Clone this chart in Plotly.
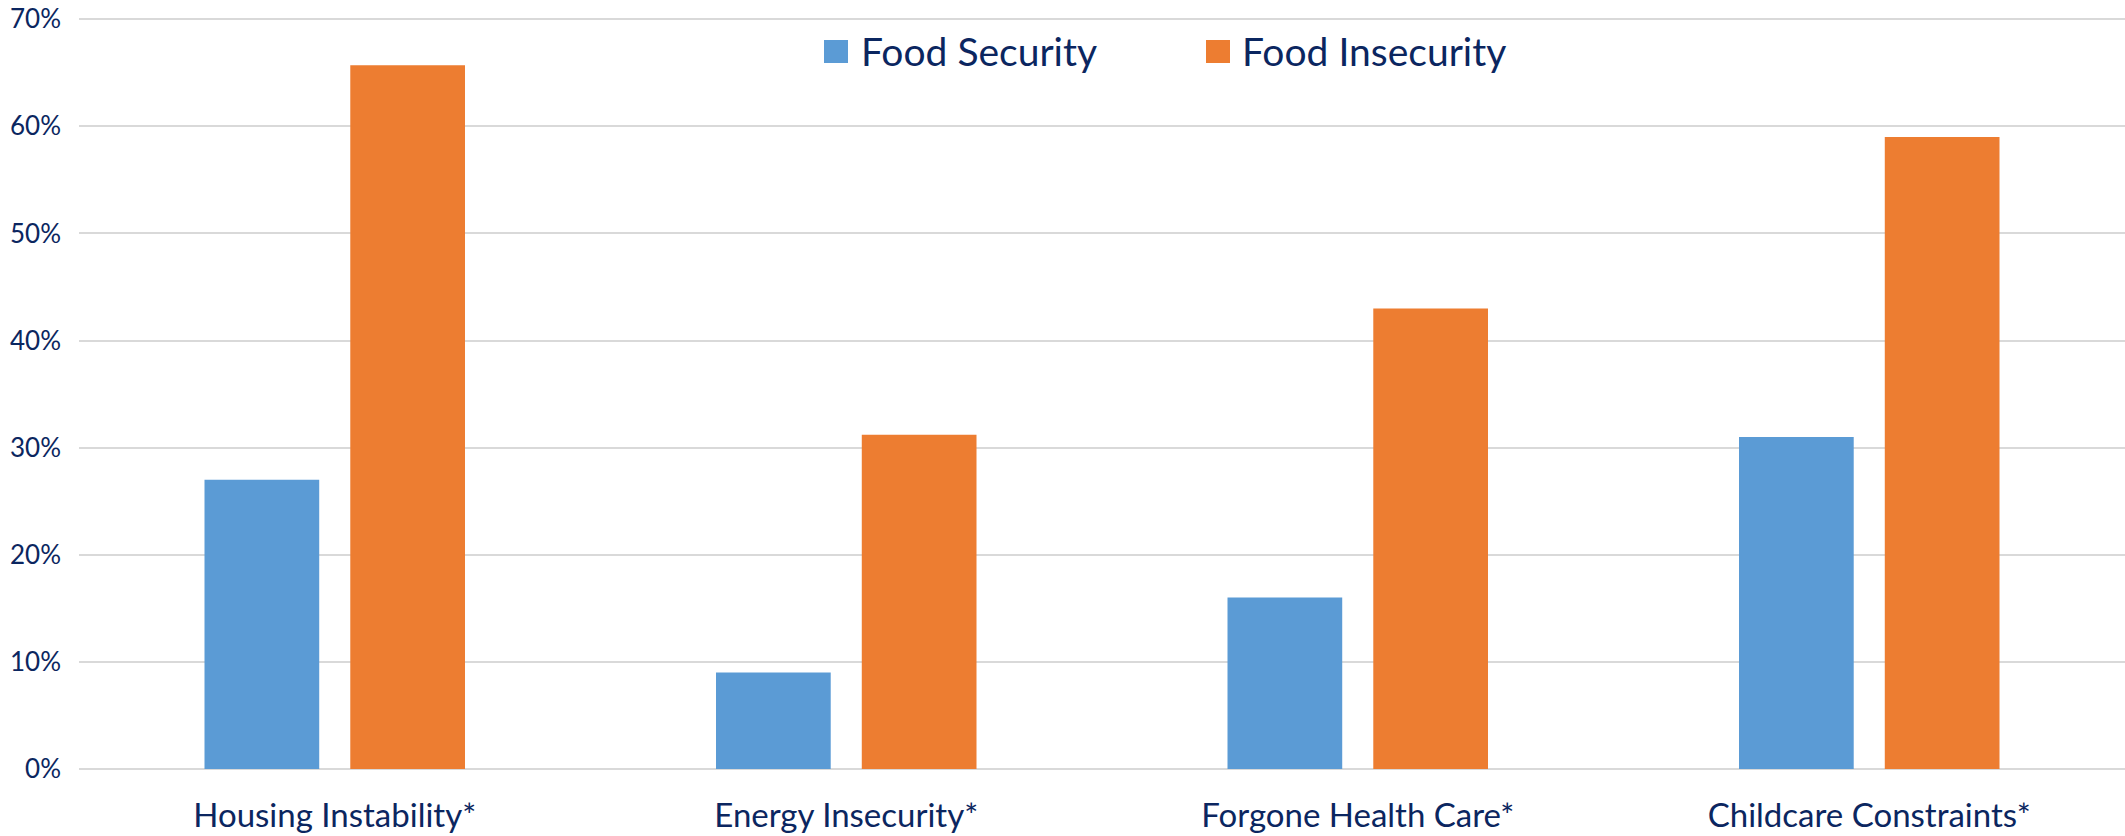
import plotly.graph_objects as go

categories = ["Housing Instability*", "Energy Insecurity*", "Forgone Health Care*", "Childcare Constraints*"]
food_security = [0.27, 0.09, 0.16, 0.31]
food_insecurity = [0.657, 0.312, 0.43, 0.59]
series_names = ["Food Security", "Food Insecurity"]
series_colors = ["#5B9BD5", "#ED7D31"]
y_ticks = [0, 0.1, 0.2, 0.3, 0.4, 0.5, 0.6, 0.7]

TEXT = "#0B2660"
FONT = "Lato"

fig = go.Figure()
for name, vals, col in zip(series_names, [food_security, food_insecurity], series_colors):
    fig.add_trace(go.Bar(x=categories, y=vals, name=name, marker=dict(color=col, line=dict(width=0)),
                         showlegend=False))

W, H = 2125, 836
ml, mr, mt, mb = 79, 0, 16, 67
pw, ph = W - ml - mr, H - mt - mb

def px(x):
    return (x - ml) / pw

def py(y):
    return (H - mb - y) / ph

# custom legend (large square swatches like the original)
legend_items = [(824, 859), (1206, 1240)]
for (sx, tx), name, col in zip(legend_items, series_names, series_colors):
    fig.add_shape(type="rect", xref="paper", yref="paper",
                  x0=px(sx), x1=px(sx + 24), y0=py(63), y1=py(40),
                  fillcolor=col, line=dict(width=0))
    fig.add_annotation(text=name, xref="paper", yref="paper", x=px(tx), y=py(51),
                       xanchor="left", yanchor="middle", showarrow=False,
                       font=dict(family=FONT, size=39, color=TEXT))

fig.update_layout(
    width=W, height=H,
    margin=dict(l=ml, r=mr, t=mt, b=mb, autoexpand=False),
    paper_bgcolor="white", plot_bgcolor="white",
    barmode="group", bargap=0.43, bargroupgap=0.213,
    font=dict(family=FONT, color=TEXT),
    showlegend=False,
)
fig.update_yaxes(range=[0, 0.703], tickvals=y_ticks, tickformat=".0%",
                 showgrid=True, gridcolor="#D9D9D9", gridwidth=2,
                 zeroline=True, zerolinecolor="#D9D9D9", zerolinewidth=2,
                 showline=False, ticks="", ticklabelstandoff=17, automargin=False,
                 tickfont=dict(family=FONT, size=26, color=TEXT))
fig.update_xaxes(showgrid=False, showline=False, ticks="", ticklabelstandoff=24, automargin=False,
                 tickfont=dict(family=FONT, size=33, color=TEXT))

fig.write_html("out.html", config={"displayModeBar": False},
               post_script="document.body.style.margin='0px';document.body.style.overflow='hidden';")
